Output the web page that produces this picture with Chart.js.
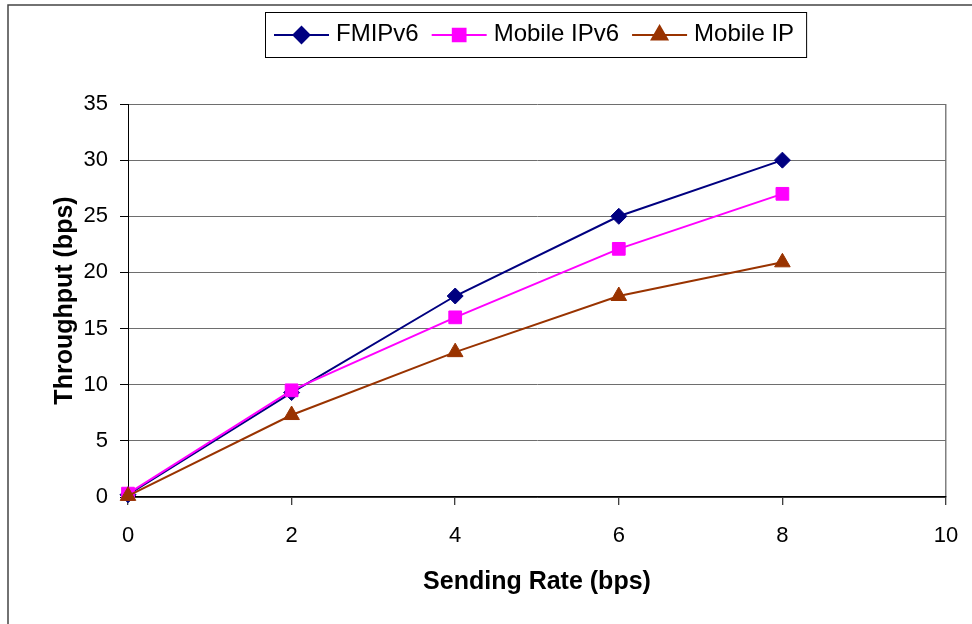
<!DOCTYPE html>
<html>
<head>
<meta charset="utf-8">
<script src="https://cdn.jsdelivr.net/npm/chart.js@4/dist/chart.umd.min.js"></script>
<style>
  body { margin: 0; background: #fff; }
  #wrap { width: 972px; height: 624px; }
</style>
</head>
<body>
<div id="wrap"><canvas id="c" width="972" height="624"></canvas></div>
<script>
// values
const sendingRate = [0, 2, 4, 6, 8];
const fmipv6 = [0.2, 9.3, 17.9, 25.0, 30.0];
const mobileIpv6 = [0.3, 9.5, 16.0, 22.1, 27.0];
const mobileIp = [0.1, 7.3, 12.9, 17.9, 20.9];
const seriesNames = ['FMIPv6', 'Mobile IPv6', 'Mobile IP'];

const FONT = '"Liberation Sans", Arial, sans-serif';

function toPoints(ys) {
  return sendingRate.map((x, i) => ({x: x, y: ys[i]}));
}

function makeSet(label, ys, color, style, radius, order) {
  return {
    label: label,
    data: toPoints(ys),
    borderColor: color,
    backgroundColor: color,
    borderWidth: 2,
    pointStyle: style,
    pointRadius: radius,
    pointBorderWidth: 1,
    pointHoverRadius: radius,
    clip: false,
    order: order,
  };
}

//draws the boxed legend with line + marker samples, and the outer frame
const boxLegend = {
  id: 'boxLegend',
  afterDraw(chart) {
    const ctx = chart.ctx;
    ctx.save();
    // outer frame
    ctx.strokeStyle = '#444';
    ctx.lineWidth = 1.5;
    ctx.beginPath();
    ctx.moveTo(8, 624);
    ctx.lineTo(8, 5);
    ctx.lineTo(972, 5);
    ctx.stroke();

    ctx.font = '24px ' + FONT;
    const sets = chart.data.datasets;
    const lineLen = 55, gapText = 7, gapItem = 13, padL = 9, padR = 12;
    let total = padL + padR;
    sets.forEach((ds, i) => {
      total += lineLen + gapText + ctx.measureText(ds.label).width;
      if (i < sets.length - 1) total += gapItem;
    });
    const boxX = Math.round(535.5 - total / 2);
    const boxY = 12, boxH = 45;
    ctx.fillStyle = '#fff';
    ctx.fillRect(boxX, boxY, total, boxH);
    ctx.strokeStyle = '#000';
    ctx.lineWidth = 1;
    ctx.strokeRect(boxX + 0.5, boxY + 0.5, total, boxH);

    let x = boxX + padL;
    const cy = 35;
    sets.forEach((ds) => {
      ctx.strokeStyle = ds.borderColor;
      ctx.lineWidth = 2;
      ctx.beginPath();
      ctx.moveTo(x, cy);
      ctx.lineTo(x + lineLen, cy);
      ctx.stroke();
      ctx.fillStyle = ds.backgroundColor;
      Chart.helpers.drawPoint(ctx, {
        pointStyle: ds.pointStyle,
        radius: ds.pointRadius,
        rotation: 0,
        borderWidth: 1,
      }, x + lineLen / 2, cy);
      x += lineLen + gapText;
      ctx.fillStyle = '#000';
      ctx.textBaseline = 'middle';
      ctx.textAlign = 'left';
      ctx.fillText(ds.label, x, cy - 1);
      x += ctx.measureText(ds.label).width + gapItem;
    });
    ctx.restore();
  }
};

const config = {
  type: 'line',
  data: {
    datasets: [
      makeSet(seriesNames[0], fmipv6, '#000080', 'rectRot', 8, 3),
      makeSet(seriesNames[1], mobileIpv6, '#FF00FF', 'rect', 9, 2),
      makeSet(seriesNames[2], mobileIp, '#993300', 'triangle', 9, 1),
    ]
  },
  options: {
    responsive: false,
    animation: false,
    layout: {
      autoPadding: false,
      padding: {top: 104, right: 26, left: 0, bottom: 0}
    },
    plugins: {
      legend: {display: false},
      tooltip: {enabled: false},
    },
    scales: {
      x: {
        type: 'linear',
        min: 0,
        max: 10,
        ticks: {
          stepSize: 2,
          color: '#000',
          padding: 18,
          font: {family: FONT, size: 22},
        },
        grid: {
          color: (c) => (c.tick && c.tick.value === 10) ? '#808080' : 'rgba(0,0,0,0)',
          lineWidth: 1.5,
          tickColor: '#000',
          tickLength: 8,
          tickWidth: 1,
        },
        border: {color: '#000', width: 1.5},
        title: {
          display: true,
          text: 'Sending Rate (bps)',
          color: '#000',
          font: {family: FONT, size: 25, weight: 'bold'},
          padding: {top: 0, bottom: 27},
        },
        afterFit: (s) => {
          s.height = 127;
          s.paddingLeft = 0;
          s.paddingRight = 0;
        },
      },
      y: {
        min: 0,
        max: 35,
        ticks: {
          stepSize: 5,
          color: '#000',
          padding: 12,
          font: {family: FONT, size: 22},
        },
        grid: {
          color: '#6e6e6e',
          lineWidth: 1,
          tickColor: '#000',
          tickLength: 8,
        },
        border: {color: '#000', width: 1},
        title: {
          display: true,
          text: 'Throughput (bps)',
          color: '#000',
          font: {family: FONT, size: 25, weight: 'bold'},
          padding: {top: 50, bottom: 0},
        },
        afterFit: (s) => { s.width = 128; },
      }
    }
  },
  plugins: [boxLegend]
};

new Chart(document.getElementById('c'), config);
</script>
</body>
</html>
